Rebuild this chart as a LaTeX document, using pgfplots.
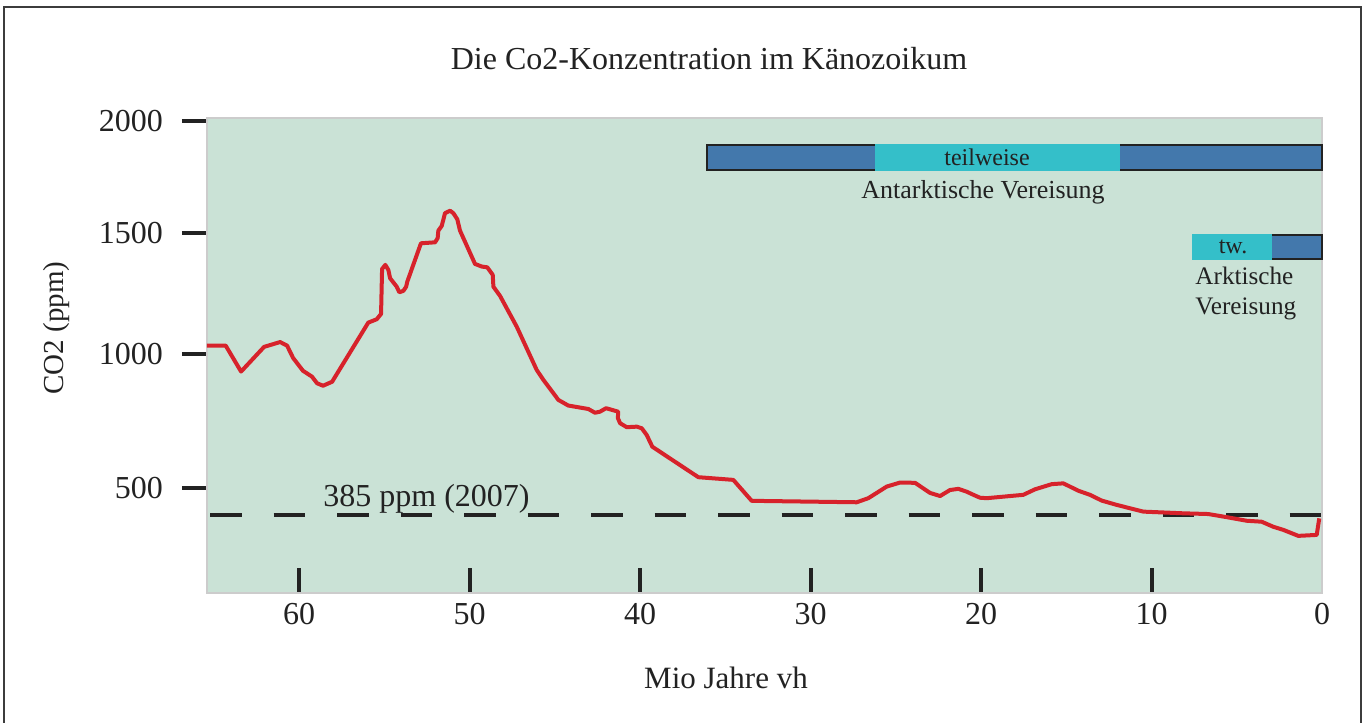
\documentclass[border=0pt]{standalone}
\usepackage{pgfplots}
\pgfplotsset{compat=1.18}
\usepackage{fontspec}
\setmainfont{Liberation Serif}
\definecolor{bggreen}{HTML}{CAE2D6}
\definecolor{redline}{HTML}{D7222B}
\definecolor{barblue}{HTML}{4378AC}
\definecolor{barcyan}{HTML}{34BFC9}
\definecolor{inkgray}{HTML}{222222}
\definecolor{framegray}{HTML}{3C3C3C}

\begin{document}
\begin{tikzpicture}
\useasboundingbox (-103.5pt,-64.5pt) rectangle (578pt,296.5pt);
\begin{axis}[
  at={(0,0)}, anchor=south west,
  scale only axis, width=557.5pt, height=237.5pt,
  x dir=reverse, xmin=0, xmax=65.4,
  ymin=61, ymax=2013,
  y coord trafo/.code={\pgfmathparse{(#1<500) ? (234.3+(#1-500)*0.240) : ((#1<1000) ? (234.3+(#1-500)*0.2674) : ((#1<1500) ? (368+(#1-1000)*0.2426) : (489.3+(#1-1500)*0.2234)))}},
  axis background/.style={fill=bggreen},
  axis line style={draw=black!20, line width=0.6pt},
  xtick={10,20,30,40,50,60},
  extra x ticks={0},
  extra x tick style={major tick style={draw=none}},
  xtick pos=bottom, xtick align=inside,
  ytick={500,1000,1500,2000}, yticklabels={500,1000,1500,2000},
  ytick pos=left, ytick align=outside,
  major tick length=12.5pt,
  major tick style={line width=2pt, draw=inkgray},
  tick label style={font=\fontsize{16}{19}\selectfont, text=inkgray},
  yticklabel style={xshift=-6pt},
  xticklabel style={yshift=-1.5pt},
  /pgf/number format/assume math mode=true,
]
\addplot[dash pattern=on 15.75pt off 16pt, line width=2pt, color=inkgray] coordinates {(65.22,385) (0,385)};
\addplot[redline, line width=2pt, line join=round] table {
x y
65.40 1034
64.30 1034
63.40 934
62.05 1029
61.11 1049
60.70 1034
60.35 985
59.77 937
59.24 915
58.94 890
58.59 881
58.06 896
55.94 1129
55.44 1143
55.19 1165
55.13 1350
54.94 1367
54.76 1346
54.66 1312
54.27 1277
54.12 1254
53.88 1260
53.72 1277
53.65 1298
52.85 1456
52.02 1460
51.87 1477
51.83 1509
51.63 1530
51.44 1587
51.14 1598
50.95 1587
50.72 1560
50.56 1509
49.68 1371
49.28 1360
48.96 1357
48.64 1326
48.60 1277
48.21 1239
47.23 1112
46.06 940
45.67 903
44.79 828
44.21 807
43.03 794
42.64 780
42.35 784
41.99 797
41.28 784
41.30 760
41.17 741
40.78 726
40.19 728
39.90 722
39.61 697
39.28 653
36.58 539
34.53 529
33.45 445
27.29 439
26.61 456
25.53 504
24.75 519
23.87 518
22.99 478
22.40 465
21.82 490
21.33 495
20.84 483
20.35 467
20.06 458
19.67 456
17.52 470
16.83 493
15.85 513
15.17 516
14.29 487
13.61 470
12.92 446
12.04 428
10.48 400
8.13 393
6.67 390
5.59 377
4.42 362
3.54 358
2.86 337
2.27 324
1.39 299
0.31 303
0.16 372
};
\end{axis}
% frame
\draw[framegray, line width=1pt] (-101.25pt,-70pt) -- (-101.25pt,293pt) -- (577pt,293pt) -- (577pt,-70pt);
% title and labels
\node[anchor=base, text=inkgray, font=\fontsize{16}{19}\selectfont] at (251pt,261.5pt) {Die Co2-Konzentration im Känozoikum};
\node[rotate=90, anchor=center, text=inkgray, font=\fontsize{14.5}{17}\selectfont] at (-75pt,132.5pt) {CO2 (ppm)};
\node[anchor=center, text=inkgray, font=\fontsize{15.5}{18}\selectfont] at (259.5pt,-42.5pt) {Mio Jahre vh};
\node[anchor=base west, text=inkgray, font=\fontsize{16}{19}\selectfont, inner sep=0pt] at (58pt,43pt) {385 ppm (2007)};
% Antarctic glaciation bar
\fill[barblue, draw=inkgray, line width=0.6pt] (250pt,211.5pt) rectangle (557.5pt,224pt);
\fill[barcyan] (334pt,211.2pt) rectangle (456.5pt,224.3pt);
\node[anchor=center, text=inkgray, font=\fontsize{12}{14}\selectfont] at (390pt,217.8pt) {teilweise};
\node[anchor=base, text=inkgray, font=\fontsize{13}{15}\selectfont] at (388pt,197pt) {Antarktische Vereisung};
% Arctic glaciation bar
\fill[barblue, draw=inkgray, line width=0.6pt] (493pt,167pt) rectangle (557.5pt,179pt);
\fill[barcyan] (492.6pt,166.7pt) rectangle (532.5pt,179.3pt);
\node[anchor=center, text=inkgray, font=\fontsize{12}{14}\selectfont] at (513pt,173pt) {tw.};
\node[anchor=base west, text=inkgray, font=\fontsize{12.6}{15}\selectfont, inner sep=0pt] at (494pt,154pt) {Arktische};
\node[anchor=base west, text=inkgray, font=\fontsize{12.6}{15}\selectfont, inner sep=0pt] at (494pt,139pt) {Vereisung};
\end{tikzpicture}
\end{document}
